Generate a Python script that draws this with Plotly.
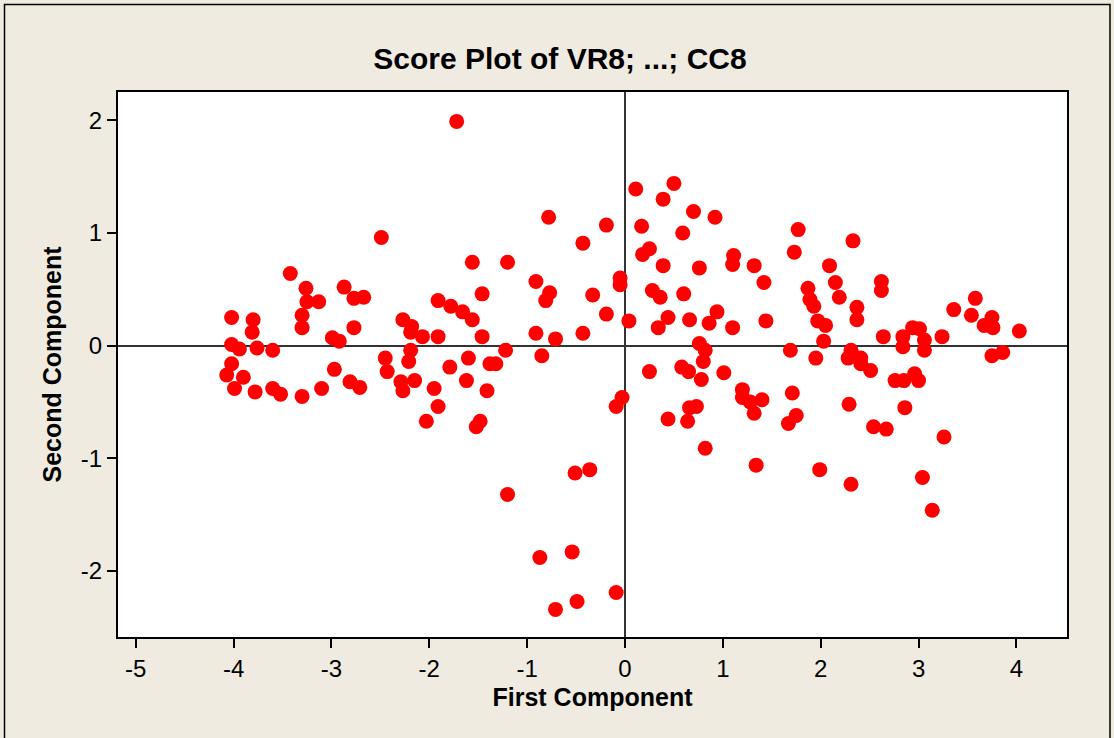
import plotly.graph_objects as go

# Score values
first_component = [
    -1.72, -2.49, -1.56, -3.42, -3.26, -3.25, -3.13, -2.87, -2.77, -2.67,
    -1.46, -4.02, -3.80, -3.81, -3.30, -3.30, -2.77, -2.99, -2.92, -2.27,
    -2.18, -2.19, -2.07, -1.91, -1.78, -1.66, -1.56, -1.91, -1.46, -4.02,
    -3.94, -3.76, -3.60, -2.45, -2.43, -2.19, -2.21, -2.97, -1.79, -1.60,
    -4.02, -4.07, -3.90, -3.99, -3.78, -3.60, -3.52, -3.30, -3.10, -2.81,
    -2.71, -2.29, -2.27, -2.15, -1.95, -1.91, -2.03, -1.62, -1.48, -1.52,
    -1.41, -1.38, -0.78, -0.43, -0.19, -1.20, -0.91, -0.77, -0.81, -0.33,
    -0.05, -0.05, -0.19, 0.04, -0.43, -0.91, -0.71, -1.22, -1.32, -0.85,
    0.11, 0.50, 0.39, 0.70, 0.92, 0.17, 0.59, 0.25, 0.18, 0.39,
    0.76, 1.11, 1.10, 0.28, 0.36, 0.60, 0.94, 0.44, 0.34, 0.66,
    0.86, 1.10, 0.76, 0.82, 0.80, 0.25, 0.58, 0.65, 1.01, 0.78,
    -0.03, -0.09, -0.51, -0.36, -1.20, -0.87, -0.54, -0.71, -0.49, -0.09,
    1.20, 1.20, 1.28, 1.32, 0.44, 0.66, 0.73, 0.64, 0.82, 1.34,
    1.77, 2.33, 1.73, 1.32, 1.42, 2.09, 2.15, 2.19, 1.87, 1.89,
    1.93, 2.62, 2.62, 2.37, 2.37, 1.97, 2.05, 2.03, 1.44, 2.64,
    2.84, 2.94, 3.01, 3.06, 3.06, 2.84, 3.24, 3.36, 3.58, 3.54,
    3.75, 3.67, 3.76, 4.03, 3.75, 3.86, 1.69, 1.95, 2.31, 2.28,
    2.41, 2.41, 2.51, 2.76, 2.85, 2.96, 3.00, 2.86, 2.29, 2.54,
    2.67, 3.26, 3.04, 3.14, 2.31, 1.99, 1.40, 1.71, 1.75, 1.67,
]
second_component = [
    1.99, 0.96, 0.74, 0.64, 0.51, 0.39, 0.39, 0.52, 0.42, 0.43,
    0.46, 0.25, 0.23, 0.12, 0.27, 0.16, 0.16, 0.07, 0.04, 0.23,
    0.17, 0.12, 0.08, 0.40, 0.35, 0.30, 0.23, 0.08, 0.08, 0.01,
    -0.03, -0.02, -0.04, -0.11, -0.23, -0.04, -0.14, -0.21, -0.19, -0.11,
    -0.16, -0.26, -0.28, -0.38, -0.41, -0.38, -0.43, -0.45, -0.38, -0.32,
    -0.37, -0.32, -0.40, -0.31, -0.38, -0.54, -0.67, -0.31, -0.67, -0.72,
    -0.40, -0.16, 1.14, 0.91, 1.07, 0.74, 0.57, 0.47, 0.40, 0.45,
    0.60, 0.54, 0.28, 0.22, 0.11, 0.11, 0.06, -0.04, -0.16, -0.09,
    1.39, 1.44, 1.30, 1.19, 1.14, 1.06, 1.00, 0.86, 0.81, 0.71,
    0.69, 0.80, 0.72, 0.49, 0.43, 0.46, 0.30, 0.25, 0.16, 0.23,
    0.20, 0.16, 0.02, -0.04, -0.14, -0.23, -0.19, -0.23, -0.24, -0.30,
    -0.46, -0.54, -1.13, -1.10, -1.32, -1.88, -1.83, -2.34, -2.27, -2.19,
    -0.39, -0.46, -0.50, -0.60, -0.65, -0.55, -0.54, -0.67, -0.91, -1.06,
    1.03, 0.93, 0.83, 0.71, 0.56, 0.71, 0.56, 0.43, 0.51, 0.41,
    0.35, 0.57, 0.49, 0.34, 0.23, 0.22, 0.18, 0.04, 0.22, 0.08,
    0.08, 0.16, 0.15, 0.05, -0.04, -0.01, 0.08, 0.32, 0.42, 0.27,
    0.25, 0.18, 0.16, 0.13, -0.09, -0.06, -0.04, -0.11, -0.04, -0.11,
    -0.11, -0.16, -0.22, -0.31, -0.31, -0.25, -0.31, -0.55, -0.52, -0.72,
    -0.74, -0.81, -1.17, -1.46, -1.23, -1.10, -0.48, -0.42, -0.62, -0.69,
]

x_ticks = [-5, -4, -3, -2, -1, 0, 1, 2, 3, 4]
x_tick_labels = ["-5", "-4", "-3", "-2", "-1", "0", "1", "2", "3", "4"]
y_ticks = [-2, -1, 0, 1, 2]
y_tick_labels = ["-2", "-1", "0", "1", "2"]

BG = "#EFEBE0"
FONT = "Liberation Sans"

fig = go.Figure()
fig.add_trace(go.Scatter(
    x=first_component, y=second_component, mode="markers",
    marker=dict(color="#FF0000", size=15, line=dict(width=0)),
    hoverinfo="x+y", showlegend=False,
))

W, H = 1114, 738
L, R, T, B = 118, 47, 92, 101
pw, ph = W - L - R, H - T - B

fig.update_layout(
    width=W, height=H,
    margin=dict(l=L, r=R, t=T, b=B, pad=0),
    paper_bgcolor=BG, plot_bgcolor="white",
    font=dict(family=FONT, color="black", size=24),
    title=dict(
        text="<b>Score Plot of VR8; ...; CC8</b>",
        x=560 / W, xref="container", xanchor="center",
        y=1 - 58 / H, yref="container", yanchor="middle",
        font=dict(family=FONT, size=30, color="black"),
    ),
    xaxis=dict(
        range=[-5.181, 4.517], tickvals=x_ticks, ticktext=x_tick_labels,
        ticks="outside", ticklen=9, tickwidth=2, tickcolor="black",
        showline=True, linecolor="black", linewidth=2, mirror=True,
        showgrid=False,
        zeroline=True, zerolinecolor="#333333", zerolinewidth=1.5,
        tickfont=dict(family=FONT, size=24, color="black"),
        title=dict(text="<b>First Component</b>", standoff=8,
                   font=dict(family=FONT, size=25, color="black")),
    ),
    yaxis=dict(
        range=[-2.585, 2.251], tickvals=y_ticks, ticktext=y_tick_labels,
        ticks="outside", ticklen=9, tickwidth=2, tickcolor="black",
        showline=True, linecolor="black", linewidth=2, mirror=True,
        showgrid=False,
        zeroline=True, zerolinecolor="#333333", zerolinewidth=1.5,
        tickfont=dict(family=FONT, size=24, color="black"),
        title=dict(text="<b>Second Component</b>", standoff=12,
                   font=dict(family=FONT, size=25, color="black")),
    ),
)

# Outer frame of the graph window
fig.add_shape(
    type="rect", xref="paper", yref="paper",
    x0=(4.5 - L) / pw, x1=(1110 - L) / pw,
    y0=(H - B - 760) / ph, y1=(H - B - 4.5) / ph,
    line=dict(color="black", width=1.5), fillcolor="rgba(0,0,0,0)",
    layer="below",
)

fig.write_html(
    "out.html",
    config={"displayModeBar": False},
    post_script="document.body.style.margin='0';document.body.style.overflow='hidden';",
)
